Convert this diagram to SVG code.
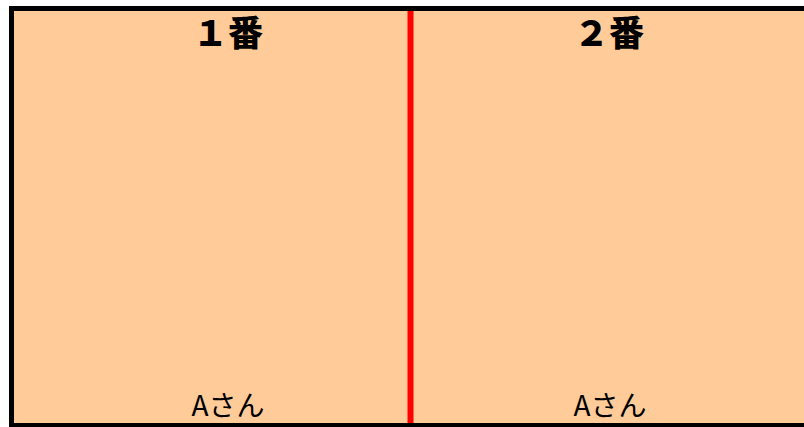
<svg xmlns="http://www.w3.org/2000/svg" width="804" height="427" viewBox="0 0 804 427">
<style>
.t{font-family:"Noto Sans CJK JP","Noto Sans",sans-serif;fill:#000;text-anchor:middle}
.h{font-size:35px;font-weight:900}
.n{font-size:28px}
</style>
<rect x="0" y="0" width="804" height="427" fill="#fff"/>
<g id="frame">
<rect x="9" y="6" width="795" height="421" fill="#FFCC99"/>
<rect x="9" y="6" width="795" height="5" fill="#000"/>
<rect x="9" y="6" width="5" height="421" fill="#000"/>
<rect x="9" y="423" width="795" height="4" fill="#000"/>
</g>
<g id="connectors">
<line x1="410.5" y1="11" x2="410.5" y2="423" stroke="#FF0000" stroke-width="6"/>
</g>
<g id="panel1">
<text class="t h" x="228" y="46">１番</text>
<text class="t n" x="228" y="416">Aさん</text>
</g>
<g id="panel2">
<text class="t h" x="609" y="46">２番</text>
<text class="t n" x="610" y="416">Aさん</text>
</g>
</svg>
